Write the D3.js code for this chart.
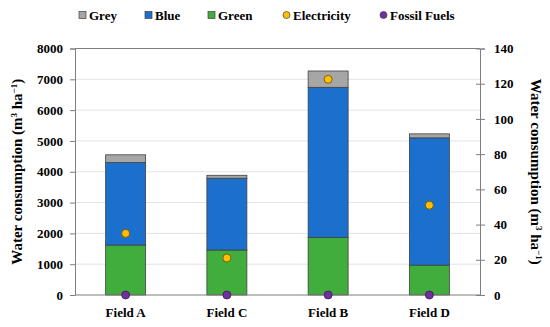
<!DOCTYPE html>
<html><head><meta charset="utf-8">
<script src="https://cdn.jsdelivr.net/npm/d3@7"></script>
<style>body{margin:0;background:#fff}svg{display:block}
svg text{font-family:"Liberation Serif","Times New Roman",Times,"DejaVu Serif",serif !important;font-weight:bold;fill:#000}</style>
</head><body><svg id="c" width="550" height="327"></svg>
<script>
const categories = ["Field A", "Field C", "Field B", "Field D"];
const green = [1620, 1460, 1870, 970];
const blue = [2680, 2330, 4870, 4130];
const grey = [250, 95, 530, 130];
const electricity = [35, 21, 122.5, 51];
const fossilFuels = [0, 0, 0, 0];
const leftTicks = [0,1000,2000,3000,4000,5000,6000,7000,8000];
const rightTicks = [0,20,40,60,80,100,120,140];

const svg = d3.select("#c");
const m = {l:75, r:480, t:48.5, b:295};
const x = d3.scaleBand().domain(categories).range([m.l, m.r]).paddingInner(0.605).paddingOuter(0.3025);
const y = d3.scaleLinear().domain([0,8000]).range([m.b, m.t]);
const y2 = d3.scaleLinear().domain([0,140]).range([m.b, m.t]);

svg.append("g").selectAll("line").data(leftTicks.slice(1)).join("line")
  .attr("x1", m.l).attr("x2", m.r).attr("y1", d=>y(d)).attr("y2", d=>y(d))
  .attr("stroke", "#e3e3e3").attr("stroke-width", 1);

const rows = categories.map((c,i)=>({cat:c, Green:green[i], Blue:blue[i], Grey:grey[i]}));
const keys = ["Green","Blue","Grey"];
const colors = {Green:"#40ad3c", Blue:"#1a70cc", Grey:"#a6a6a6"};
const stack = d3.stack().keys(keys)(rows);
svg.append("g").selectAll("g").data(stack).join("g").attr("fill", d=>colors[d.key])
  .selectAll("rect").data(d=>d).join("rect")
  .attr("x", d=>x(d.data.cat)).attr("width", x.bandwidth())
  .attr("y", d=>y(d[1])).attr("height", d=>y(d[0])-y(d[1]))
  .attr("stroke", "#404040").attr("stroke-width", 0.8);

const axL = svg.append("g").attr("transform", `translate(${m.l},0)`)
  .call(d3.axisLeft(y).tickValues(leftTicks).tickSize(5).tickPadding(7).tickFormat(d3.format("d")));
const axR = svg.append("g").attr("transform", `translate(${m.r},0)`)
  .call(d3.axisRight(y2).tickValues(rightTicks).tickSize(5).tickPadding(9).tickFormat(d3.format("d")));
[axL, axR].forEach(a=>{
  a.attr("font-family", null);
  a.select(".domain").attr("stroke", "#7f7f7f");
  a.selectAll(".tick line").attr("stroke", "#7f7f7f");
  a.selectAll(".tick text").style("font-size", "13px");
});
axR.selectAll(".tick line").attr("x1", -4);
svg.append("line").attr("x1", m.l).attr("x2", m.r).attr("y1", m.t).attr("y2", m.t).attr("stroke", "#7f7f7f");
svg.append("line").attr("x1", m.l).attr("x2", m.r).attr("y1", m.b).attr("y2", m.b).attr("stroke", "#7f7f7f");

svg.append("g").selectAll("text").data(categories).join("text")
  .attr("x", d=>x(d)+x.bandwidth()/2).attr("y", 317).attr("text-anchor","middle")
  .style("font-size","13px").text(d=>d);

const cx = d=>x(d)+x.bandwidth()/2;
svg.append("g").selectAll("circle").data(categories).join("circle")
  .attr("cx", cx).attr("cy", (d,i)=>y2(electricity[i])).attr("r", 4)
  .attr("fill", "#ffc000").attr("stroke", "#6b4a00").attr("stroke-width", 0.8);
svg.append("g").selectAll("circle").data(categories).join("circle")
  .attr("cx", cx).attr("cy", (d,i)=>y2(fossilFuels[i])).attr("r", 4)
  .attr("fill", "#7030a0").attr("stroke", "#3a1a55").attr("stroke-width", 0.8);

const title = (sel)=>{ sel.append("tspan").text("Water consumption (m");
  sel.append("tspan").attr("dy", -5).style("font-size","9px").text("3");
  sel.append("tspan").attr("dy", 5).text(" ha");
  sel.append("tspan").attr("dy", -5).style("font-size","9px").text("−1");
  sel.append("tspan").attr("dy", 5).text(")"); };
svg.append("text").attr("transform", `translate(22,${(m.t+m.b)/2}) rotate(-90)`)
  .attr("text-anchor","middle").style("font-size","15px").call(title);
svg.append("text").attr("transform", `translate(531,${(m.t+m.b)/2}) rotate(90)`)
  .attr("text-anchor","middle").style("font-size","15px").call(title);

const leg = [
  {name:"Grey", type:"rect", color:"#a6a6a6", x:79},
  {name:"Blue", type:"rect", color:"#1a70cc", x:145},
  {name:"Green", type:"rect", color:"#40ad3c", x:208},
  {name:"Electricity", type:"circle", color:"#ffc000", x:283},
  {name:"Fossil Fuels", type:"circle", color:"#7030a0", x:380}
];
const lg = svg.append("g").selectAll("g").data(leg).join("g").attr("transform", d=>`translate(${d.x},15)`);
lg.filter(d=>d.type==="rect").append("rect").attr("x",0).attr("y",-3.5).attr("width",7).attr("height",7)
  .attr("fill", d=>d.color).attr("stroke","#404040").attr("stroke-width",0.7);
lg.filter(d=>d.type==="circle").append("circle").attr("cx",3.5).attr("cy",0).attr("r",3.5)
  .attr("fill", d=>d.color).attr("stroke","#404040").attr("stroke-width",0.7);
lg.append("text").attr("x", 10).attr("y", 4.5).style("font-size","13px").text(d=>d.name);
</script></body></html>
